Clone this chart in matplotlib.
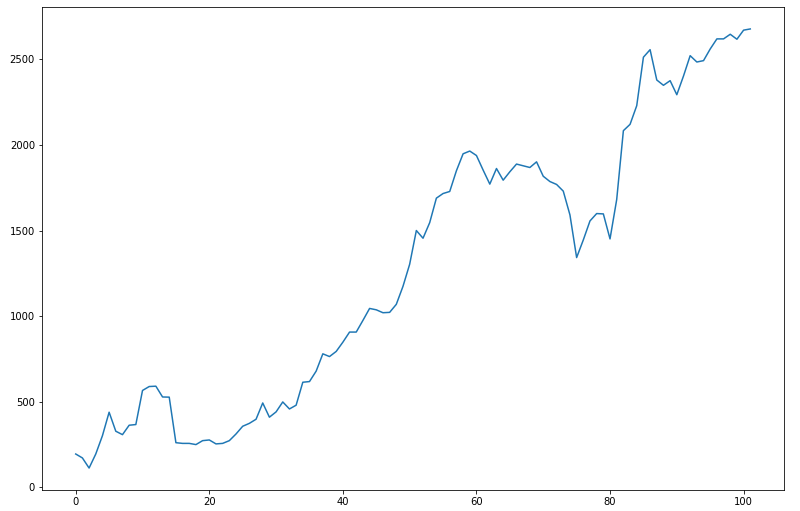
import matplotlib
matplotlib.use("Agg")
import matplotlib.pyplot as plt

# values, one per integer step
x = list(range(102))
y = [195, 172, 113, 195, 302, 439, 328, 308, 363, 367,
     566, 589, 591, 528, 527, 261, 257, 257, 250, 273,
     277, 254, 257, 273, 312, 357, 374, 398, 493, 410,
     441, 499, 458, 480, 614, 618, 679, 780, 764, 794,
     848, 907, 907, 975, 1045, 1037, 1020, 1022, 1069, 1174,
     1303, 1500, 1455, 1546, 1689, 1716, 1728, 1849, 1948, 1964,
     1938, 1853, 1771, 1862, 1794, 1843, 1888, 1878, 1868, 1901,
     1817, 1786, 1769, 1730, 1591, 1342, 1445, 1556, 1599, 1597,
     1451, 1681, 2083, 2120, 2229, 2512, 2556, 2379, 2348, 2375,
     2293, 2402, 2521, 2484, 2492, 2560, 2619, 2619, 2646, 2617,
     2670, 2677]

fig = plt.figure(figsize=(800 / 72, 511 / 72), dpi=72)
ax = fig.add_axes([42 / 800, 21 / 511, 742 / 800, 483 / 511])
ax.plot(x, y, color="#1f77b4")
ax.set_xticks([0, 20, 40, 60, 80, 100])
ax.set_yticks([0, 500, 1000, 1500, 2000, 2500])

fig.savefig("out.png", dpi=72)
